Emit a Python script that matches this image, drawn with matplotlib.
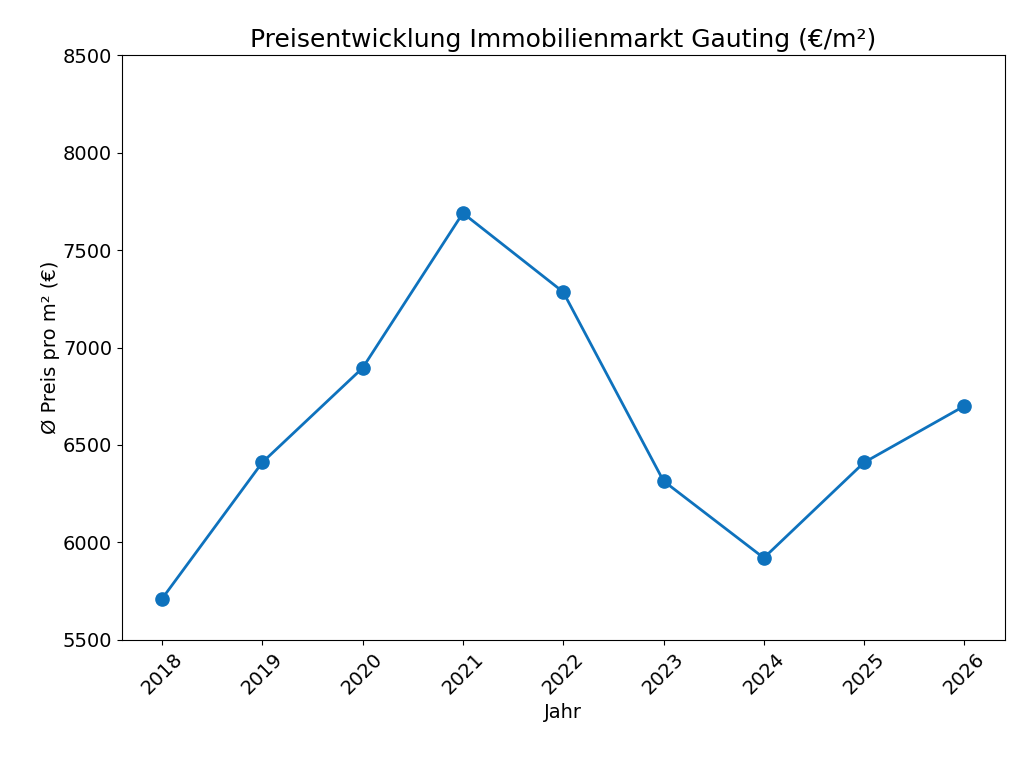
import matplotlib
matplotlib.use("Agg")
import matplotlib.pyplot as plt

# Daten
jahre = ["2018", "2019", "2020", "2021", "2022", "2023", "2024", "2025", "2026"]
preise = [5710, 6410, 6895, 7690, 7285, 6315, 5920, 6410, 6700]

fig, ax = plt.subplots(figsize=(10.24, 7.68), dpi=100)
fig.subplots_adjust(left=0.119, right=0.981, top=0.928, bottom=0.167)

ax.plot(jahre, preise, color="#0e72bd", marker="o", markersize=9.5, linewidth=2)
ax.set_ylim(5500, 8500)
ax.set_title("Preisentwicklung Immobilienmarkt Gauting (€/m²)", fontsize=18)
ax.set_xlabel("Jahr", fontsize=14)
ax.set_ylabel("Ø Preis pro m² (€)", fontsize=14, labelpad=2)
ax.tick_params(axis="both", labelsize=14)
plt.setp(ax.get_xticklabels(), rotation=45)

fig.savefig("out.png")
